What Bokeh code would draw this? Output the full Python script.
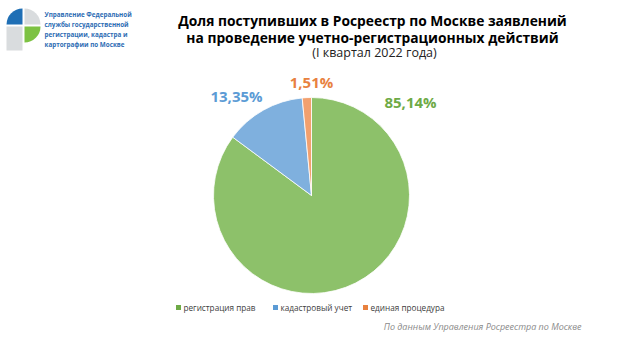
from bokeh.plotting import figure
from bokeh.models import Range1d, ColumnDataSource
from bokeh.core.properties import value
from bokeh.embed import file_html
from bokeh.resources import INLINE
import math

W, H = 624, 352

categories = ["регистрация прав", "кадастровый учет", "единая процедура"]
shares = [85.14, 13.35, 1.51]
labels = ["85,14%", "13,35%", "1,51%"]
colors = ["#8DC16A", "#7FB0DE", "#F2A06E"]
label_colors = ["#6EAA46", "#5B9BD5", "#E8813F"]

title_lines = ["Доля поступивших в Росреестр по Москве заявлений",
               "на проведение учетно-регистрационных действий"]
subtitle = "(I квартал 2022 года)"
logo_lines = ["Управление Федеральной", "службы государственной",
              "регистрации, кадастра и", "картографии по Москве"]
footer = "По данным Управления Росреестра по Москве"

p = figure(width=W, height=H, output_backend="svg", toolbar_location=None,
           x_range=Range1d(0, W), y_range=Range1d(0, H), min_border=0)
p.axis.visible = False
p.grid.visible = False
p.outline_line_color = None
p.background_fill_color = "white"

def Y(y):
    return H - y

# pie
cx, cy, r = 311, Y(195), 98
total = sum(shares)
starts, ends = [], []
cum = 0.0
for s in shares:
    a0 = math.pi / 2 - 2 * math.pi * cum / total
    cum += s
    a1 = math.pi / 2 - 2 * math.pi * cum / total
    starts.append(a1)
    ends.append(a0)
src = ColumnDataSource(dict(start=starts, end=ends, color=colors))
p.wedge(x=cx, y=cy, radius=r, start_angle="start", end_angle="end",
        fill_color="color", line_color="white", line_width=0.8, source=src)

# value labels
lx = [410, 236, 311]
ly = [Y(101), Y(95), Y(81)]
p.text(x=lx, y=ly, text=labels, text_color=label_colors,
       text_font=value("Open Sans"), text_font_size="15px", text_font_style="bold",
       text_align="center", text_baseline="middle")

# title
p.text(x=[372, 372], y=[Y(20), Y(37)], text=title_lines, text_color="black",
       text_font=value("Open Sans"), text_font_size="13.8px", text_font_style="bold",
       text_align="center", text_baseline="middle")
p.text(x=[374], y=[Y(52)], text=[subtitle], text_color="#222222",
       text_font=value("Open Sans"), text_font_size="12.5px",
       text_align="center", text_baseline="middle")

# logo
lcx, lcy, lr = 23, Y(25), 16
p.wedge(x=lcx - 1, y=lcy + 1, radius=lr, start_angle=math.pi / 2, end_angle=math.pi,
        fill_color="#1F6FB5", line_color=None)
p.wedge(x=lcx + 1, y=lcy + 1, radius=lr, start_angle=0, end_angle=math.pi / 2,
        fill_color="#D9DCDE", line_color=None)
p.wedge(x=lcx + 1, y=lcy - 1, radius=lr, start_angle=-math.pi / 2, end_angle=0,
        fill_color="#7DC243", line_color=None)
p.quad(left=lcx - 1 - lr, right=lcx - 1, top=lcy - 1, bottom=Y(50),
       fill_color="#D9DCDE", line_color=None)
p.text(x=[44] * 4, y=[Y(14), Y(24), Y(34), Y(43.5)], text=logo_lines,
       text_color="#2E6DB4", text_font=value("Open Sans"), text_font_size="6.3px",
       text_font_style="bold", text_align="left", text_baseline="middle")

# legend
leg_x = [178, 275, 365]
leg_y = Y(307)
p.rect(x=leg_x, y=[leg_y] * 3, width=5, height=5, fill_color=label_colors, line_color=None)
p.text(x=[x + 5 for x in leg_x], y=[leg_y] * 3, text=categories, text_color="#404040",
       text_font=value("Open Sans"), text_font_size="8.2px",
       text_align="left", text_baseline="middle")

# footer
p.text(x=[581], y=[Y(326)], text=[footer], text_color="#8A8A8A",
       text_font=value("Open Sans"), text_font_size="9px", text_font_style="italic",
       text_align="right", text_baseline="middle")

open("out.html", "w").write(file_html(p, INLINE))
